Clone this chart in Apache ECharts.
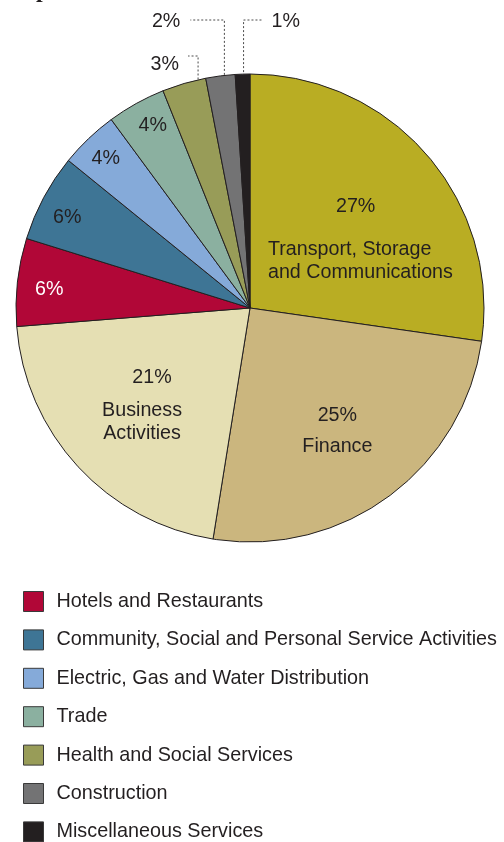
<!DOCTYPE html>
<html>
<head>
<meta charset="utf-8">
<script src="https://cdn.jsdelivr.net/npm/echarts@6/dist/echarts.min.js"></script>
<style>
  html, body { margin: 0; padding: 0; background: #ffffff; }
  #chart { width: 504px; height: 842px; }
</style>
</head>
<body>
<div id="chart"></div>
<script>
// Sector shares, clockwise from 12 o'clock
const categories = [
  'Transport, Storage and Communications',
  'Finance',
  'Business Activities',
  'Hotels and Restaurants',
  'Community, Social and Personal Service Activities',
  'Electric, Gas and Water Distribution',
  'Trade',
  'Health and Social Services',
  'Construction',
  'Miscellaneous Services'
];
const shares = [27, 25, 21, 6, 6, 4, 4, 3, 2, 1];
const sliceColors = ['#b9ad23', '#cbb67e', '#e5dfb3', '#b10737', '#3e7595',
                     '#85aad9', '#8bb0a0', '#989c58', '#737374', '#231f20'];
// Legend lists only the smaller sectors
const legendNames = categories.slice(3);

const FONT = '"Liberation Sans", Arial, sans-serif';
const FS = 19.7;
const CX = 250, CY = 308, R = 234;
const total = shares.reduce((a, b) => a + b, 0);

// mid angle of a slice, radians clockwise from 12 o'clock
function midAngle(i) {
  let before = 0;
  for (let k = 0; k < i; k++) before += shares[k];
  return (before + shares[i] / 2) / total * Math.PI * 2;
}

// label text for the three large sectors
const bigLabels = {
  0: '{p|27%}\n{g0| }\n{n|Transport, Storage}\n{n|and Communications}',
  1: '{c|25%}\n{g1| }\n{c|Finance}',
  2: '{q|21%}\n{g2| }\n{c|Business}\n{c|Activities}'
};
const rich = {
  p:  { fontSize: FS, lineHeight: 23, fontFamily: FONT, color: '#231f20', align: 'left', padding: [0, 0, 0, 68] },
  n:  { fontSize: FS, lineHeight: 23, fontFamily: FONT, color: '#231f20', align: 'left' },
  q:  { fontSize: FS, lineHeight: 23, fontFamily: FONT, color: '#231f20', padding: [0, 0, 0, 20] },
  c:  { fontSize: FS, lineHeight: 23, fontFamily: FONT, color: '#231f20' },
  g0: { fontSize: 1, lineHeight: 20 },
  g1: { fontSize: 1, lineHeight: 8 },
  g2: { fontSize: 1, lineHeight: 10 }
};

// label placement: radius fraction + small nudge
const labelRadius = [0.5, 0.5, 0.5, 0.876, 0.876, 0.893, 0.89];
const labelNudge = [[22, 8], [18, 29], [-22, 18], [3, 4], [-2, 6], [0, 2], [4, 0]];
// outside labels (dotted leaders): arm height above pie top, arm length, leader depth into slice, line shift
const outside = {
  7: { arm: 18, len: 10, depth: 16, shift: 14, dy: 9, gap: 9 },
  8: { arm: 54, len: 34, depth: 7, shift: 4, dy: 2, gap: 10 },
  9: { arm: 54, len: -19, depth: -2, shift: 1, dy: 2, gap: 9 }
};

const data = categories.map((name, i) => {
  const item = { name: name, value: shares[i], itemStyle: { color: sliceColors[i] } };
  if (outside[i]) {
    item.label = { position: 'outside', formatter: shares[i] + '%', color: '#231f20', fontSize: FS, fontFamily: FONT };
    item.labelLine = { show: true, length: 10, length2: 10,
      lineStyle: { color: '#4a4a4a', width: 1, type: [2, 2] } };
  } else if (bigLabels[i]) {
    item.label = { position: 'inside', formatter: bigLabels[i], rich: rich };
  } else {
    item.label = { position: 'inside', formatter: shares[i] + '%',
      color: i === 3 ? '#ffffff' : '#231f20', fontSize: FS, fontFamily: FONT };
  }
  return item;
});

const chart = echarts.init(document.getElementById('chart'), null, { renderer: 'canvas' });
chart.setOption({
  animation: false,
  backgroundColor: '#ffffff',
  graphic: [{
    type: 'text', left: 36, top: -21,
    style: { text: 'p', font: 'bold 24px "Liberation Serif", serif', fill: '#231f20' }
  }],
  legend: {
    data: legendNames,
    orient: 'vertical',
    left: 23,
    top: 591,
    height: 300,
    padding: 0,
    itemWidth: 20,
    itemHeight: 20,
    itemGap: 17.4,
    icon: 'rect',
    selectedMode: false,
    itemStyle: { borderColor: '#3a3a3a', borderWidth: 1 },
    textStyle: { fontSize: 19.8, lineHeight: 20, color: '#231f20', fontFamily: FONT, padding: [0, 0, 0, 8] }
  },
  series: [{
    type: 'pie',
    center: [CX, CY],
    radius: [0, R],
    startAngle: 90,
    clockwise: true,
    avoidLabelOverlap: false,
    emphasis: { disabled: true },
    itemStyle: { borderColor: '#231f20', borderWidth: 1 },
    label: { show: true, fontFamily: FONT },
    labelLine: { show: false },
    labelLayout: function (p) {
      const i = p.dataIndex;
      const a = midAngle(i);
      const ex = CX + R * Math.sin(a), ey = CY - R * Math.cos(a);
      if (outside[i]) {
        const o = outside[i];
        const lx = ex + o.shift;
        const armY = CY - R - o.arm;
        const endX = lx - o.len;
        const half = p.labelRect.width / 2;
        const x = o.len > 0 ? endX - o.gap - half : endX + o.gap + half;
        return {
          x: x, y: armY + o.dy, align: 'center', verticalAlign: 'middle',
          labelLinePoints: [[lx, ey + o.depth], [lx, armY], [endX, armY]]
        };
      }
      const rr = labelRadius[i] * R;
      const n = labelNudge[i];
      return {
        x: CX + rr * Math.sin(a) + n[0],
        y: CY - rr * Math.cos(a) + n[1],
        align: 'center', verticalAlign: 'middle'
      };
    },
    data: data
  }]
});
</script>
</body>
</html>
